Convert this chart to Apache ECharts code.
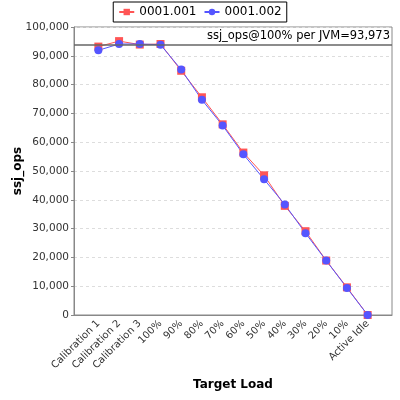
<!DOCTYPE html>
<html><head><meta charset="utf-8">
<script src="https://cdn.jsdelivr.net/npm/echarts@6/dist/echarts.min.js"></script>
<style>html,body{margin:0;padding:0;background:#fff}#c{width:400px;height:400px}</style>
</head><body><div id="c"></div>
<script>
const categories = ["Calibration 1","Calibration 2","Calibration 3","100%","90%","80%","70%","60%","50%","40%","30%","20%","10%","Active Idle"];
const series1Name = "0001.001";
const series1 = [93200, 95100, 93900, 94100, 84800, 75600, 66200, 56400, 48500, 37900, 29100, 18900, 9600, 0];
const series2Name = "0001.002";
const series2 = [91900, 94100, 94100, 93850, 85200, 74700, 65800, 55800, 47100, 38400, 28400, 18900, 9400, 0];
const refValue = 93973;
const refLabel = "ssj_ops@100% per JVM=93,973";
const yTicks = [0, 10000, 20000, 30000, 40000, 50000, 60000, 70000, 80000, 90000, 100000];

const font = "DejaVu Sans";
const chart = echarts.init(document.getElementById('c'), null, {renderer: 'canvas'});
const fmt = v => v.toLocaleString('en-US');
chart.setOption({
  animation: false,
  backgroundColor: '#fff',
  legend: {
    top: 2, left: 'center',
    data: [series1Name, series2Name],
    borderColor: '#000', borderWidth: 1, padding: [4, 5],
    itemWidth: 15, itemHeight: 8, itemGap: 7,
    textStyle: {fontFamily: font, fontSize: 12, color: '#000'}
  },
  grid: [
    {left: 74, right: 8, top: 27, bottom: 85, show: true, borderColor: '#888', borderWidth: 1, backgroundColor: 'transparent', outerBoundsMode: 'none', containLabel: false},
    {left: 88, right: 22, top: 27, bottom: 85, outerBoundsMode: 'none', containLabel: false}
  ],
  xAxis: [
    {gridIndex: 0, type: 'category', data: categories, axisLabel: {show: false}, axisTick: {show: false},
     axisLine: {lineStyle: {color: '#888'}}},
    {gridIndex: 1, type: 'category', data: categories, axisTick: {show: false}, axisLine: {show: false},
     axisLabel: {rotate: 45, fontFamily: font, fontSize: 10, color: '#333', margin: 7, interval: 0},
     name: 'Target Load', nameLocation: 'middle', nameGap: 64, nameMoveOverlap: false,
     nameTextStyle: {fontFamily: font, fontSize: 12, fontWeight: 'bold', color: '#000'}}
  ],
  yAxis: [
    {gridIndex: 0, type: 'value', min: yTicks[0], max: yTicks[yTicks.length-1], interval: 10000,
     axisLine: {show: true, lineStyle: {color: '#888'}}, axisTick: {show: true, length: 3, lineStyle: {color: '#888'}},
     axisLabel: {fontFamily: font, fontSize: 10.5, color: '#333', margin: 5, formatter: fmt},
     splitLine: {show: true, lineStyle: {color: '#ddd', type: [3, 3]}},
     name: 'ssj_ops', nameLocation: 'middle', nameGap: 50, nameMoveOverlap: false,
     nameTextStyle: {fontFamily: font, fontSize: 12, fontWeight: 'bold', color: '#000'}},
    {gridIndex: 1, type: 'value', min: yTicks[0], max: yTicks[yTicks.length-1], interval: 10000, show: false,
     splitLine: {show: false}}
  ],
  series: [
    {type: 'line', xAxisIndex: 0, yAxisIndex: 0, data: categories.map(() => null), silent: true,
     showSymbol: false,
     markLine: {symbol: 'none', silent: true,
       lineStyle: {color: '#666', width: 1.5, type: 'solid'},
       label: {position: 'insideEndTop', formatter: refLabel, fontFamily: font, fontSize: 11.5, color: '#000', distance: [2, 2]},
       data: [{yAxis: refValue}]}},
    {name: series1Name, type: 'line', xAxisIndex: 1, yAxisIndex: 1, data: series1,
     symbol: 'rect', symbolSize: 8, color: '#FF5555', lineStyle: {width: 1, color: '#FF5555'},
     itemStyle: {color: '#FF5555'}},
    {name: series2Name, type: 'line', xAxisIndex: 1, yAxisIndex: 1, data: series2,
     symbol: 'circle', symbolSize: 8, color: '#5555FF', lineStyle: {width: 1, color: '#5555FF'},
     itemStyle: {color: '#5555FF'}}
  ]
});
</script></body></html>
